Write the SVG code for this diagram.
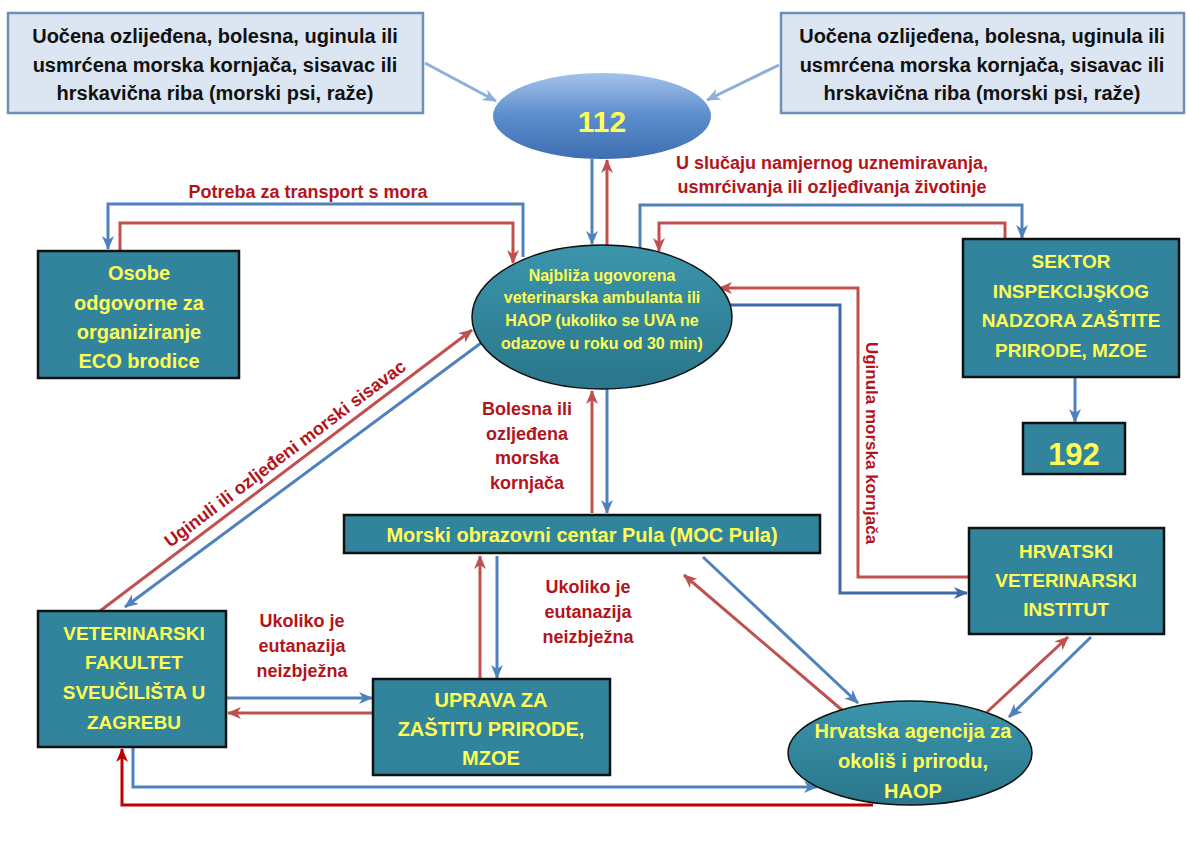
<svg xmlns="http://www.w3.org/2000/svg" width="1189" height="841" viewBox="0 0 1189 841">
<style>
.lb{fill:#dce6f2;stroke:#6f8fb6;stroke-width:2.5}
.tb{fill:#31849b;stroke:#111;stroke-width:2.5}
.te{stroke:#111;stroke-width:1.5}
.bt{font-family:"Liberation Sans",Arial,sans-serif;font-weight:bold;font-size:20px;fill:#111;text-anchor:middle}
.yt{font-family:"Liberation Sans",Arial,sans-serif;font-weight:bold;fill:#ffff55;text-anchor:middle}
.rt{font-family:"Liberation Sans",Arial,sans-serif;font-weight:bold;font-size:18px;fill:#b3141c;text-anchor:middle}
.c{fill:none;stroke-width:3}
.bl{stroke:#4f81bd}
.rd{stroke:#c0504d}
.dr{stroke:#c00000}
.lt{stroke:#8eb0d8}
.db{stroke:#3e68a6}
</style>
<defs>
<linearGradient id="g112" x1="0" y1="0" x2="0" y2="1">
<stop offset="0" stop-color="#a3c2ea"/><stop offset="0.5" stop-color="#5b8dcc"/><stop offset="1" stop-color="#3e6eb1"/>
</linearGradient>
<linearGradient id="gte" x1="0" y1="0" x2="0" y2="1">
<stop offset="0" stop-color="#3b95ab"/><stop offset="1" stop-color="#2a768b"/>
</linearGradient>
<marker id="mb" viewBox="0 0 14 12" markerWidth="14" markerHeight="12" refX="13" refY="6" orient="auto" markerUnits="userSpaceOnUse"><path d="M0,0 L14,6 L0,12 L4,6 z" fill="#4f81bd"/></marker>
<marker id="mr" viewBox="0 0 14 12" markerWidth="14" markerHeight="12" refX="13" refY="6" orient="auto" markerUnits="userSpaceOnUse"><path d="M0,0 L14,6 L0,12 L4,6 z" fill="#c0504d"/></marker>
<marker id="mdr" viewBox="0 0 14 12" markerWidth="14" markerHeight="12" refX="13" refY="6" orient="auto" markerUnits="userSpaceOnUse"><path d="M0,0 L14,6 L0,12 L4,6 z" fill="#c00000"/></marker>
<marker id="ml" viewBox="0 0 14 12" markerWidth="14" markerHeight="12" refX="13" refY="6" orient="auto" markerUnits="userSpaceOnUse"><path d="M0,0 L14,6 L0,12 L4,6 z" fill="#8eb0d8"/></marker>
<marker id="mdb" viewBox="0 0 14 12" markerWidth="14" markerHeight="12" refX="13" refY="6" orient="auto" markerUnits="userSpaceOnUse"><path d="M0,0 L14,6 L0,12 L4,6 z" fill="#3e68a6"/></marker>
</defs>
<rect width="1189" height="841" fill="#fff"/>

<g id="connectors">
<path class="c lt" d="M425,63 L496,101" marker-end="url(#ml)"/>
<path class="c lt" d="M779,65 L707,100" marker-end="url(#ml)"/>
<path class="c bl" d="M592,159 V244" marker-end="url(#mb)"/>
<path class="c rd" d="M607,245 V160" marker-end="url(#mr)"/>
<path class="c bl" d="M523,257 V204 H108 V249" marker-end="url(#mb)"/>
<path class="c rd" d="M120,251 V223 H513 V263" marker-end="url(#mr)"/>
<path class="c bl" d="M640,248 V205 H1022 V238" marker-end="url(#mb)"/>
<path class="c rd" d="M1005,239 V223 H659 V251" marker-end="url(#mr)"/>
<path class="c bl" d="M1075,377 V422" marker-end="url(#mb)"/>
<path class="c bl" d="M607,389 V513" marker-end="url(#mb)"/>
<path class="c rd" d="M592,513 V391" marker-end="url(#mr)"/>
<path class="c rd" d="M100,611 L472,330" marker-end="url(#mr)"/>
<path class="c bl" d="M481,343 L125,607" marker-end="url(#mb)"/>
<path class="c rd" d="M480,679 V556" marker-end="url(#mr)"/>
<path class="c bl" d="M497,556 V678" marker-end="url(#mb)"/>
<path class="c bl" d="M226,698 H372" marker-end="url(#mb)"/>
<path class="c rd" d="M373,713 H228" marker-end="url(#mr)"/>
<path class="c bl" d="M133,748 V787 H817" marker-end="url(#mb)"/>
<path class="c dr" d="M873,805 H122 V749" marker-end="url(#mdr)"/>
<path class="c bl" d="M703,557 L858,703" marker-end="url(#mb)"/>
<path class="c rd" d="M842,710 L684,575" marker-end="url(#mr)"/>
<path class="c rd" d="M987,712 L1068,637" marker-end="url(#mr)"/>
<path class="c bl" d="M1091,637 L1009,717" marker-end="url(#mb)"/>
<path class="c rd" d="M969,577 H858 V288 H719" marker-end="url(#mr)"/>
<path class="c db" d="M730,305 H840 V593 H967" marker-end="url(#mdb)"/>
<text class="rt" x="308" y="198">Potreba za transport s mora</text>
<text class="rt" x="832" y="169">U slučaju namjernog uznemiravanja,</text>
<text class="rt" x="832" y="193">usmrćivanja ili ozljeđivanja životinje</text>
<text class="rt" transform="translate(288.7,458.4) rotate(-37.06)" x="0" y="0">Uginuli ili ozljeđeni morski sisavac</text>
<text class="rt" x="527" y="415">Bolesna ili</text>
<text class="rt" x="527" y="440">ozljeđena</text>
<text class="rt" x="527" y="464">morska</text>
<text class="rt" x="527" y="489">kornjača</text>
<text class="rt" x="302" y="627">Ukoliko je</text>
<text class="rt" x="302" y="652">eutanazija</text>
<text class="rt" x="302" y="677">neizbježna</text>
<text class="rt" x="588" y="593">Ukoliko je</text>
<text class="rt" x="588" y="618">eutanazija</text>
<text class="rt" x="588" y="643">neizbježna</text>
<text class="rt" style="font-size:17px" transform="translate(866,443) rotate(90)" x="0" y="0">Uginula morska kornjača</text>
</g>

<g id="n-obs-left">
<rect class="lb" x="8" y="13" width="415" height="100"/>
<text class="bt" x="215" y="43">Uočena ozlijeđena, bolesna, uginula ili</text>
<text class="bt" x="215" y="72">usmrćena morska kornjača, sisavac ili</text>
<text class="bt" x="215" y="100">hrskavična riba (morski psi, raže)</text>
</g>
<g id="n-obs-right">
<rect class="lb" x="781" y="13" width="403" height="100"/>
<text class="bt" x="982" y="43">Uočena ozlijeđena, bolesna, uginula ili</text>
<text class="bt" x="982" y="72">usmrćena morska kornjača, sisavac ili</text>
<text class="bt" x="982" y="100">hrskavična riba (morski psi, raže)</text>
</g>
<g id="n-112">
<ellipse cx="602" cy="116" rx="109" ry="43" fill="url(#g112)"/>
<text class="yt" x="602" y="132" style="font-size:30px">112</text>
</g>
<g id="n-najbliza">
<ellipse class="te" cx="602" cy="317" rx="130" ry="72" fill="url(#gte)"/>
<text class="yt" x="602" y="281" style="font-size:16px">Najbliža ugovorena</text>
<text class="yt" x="602" y="303" style="font-size:16px">veterinarska ambulanta ili</text>
<text class="yt" x="602" y="326" style="font-size:16px">HAOP (ukoliko se UVA ne</text>
<text class="yt" x="602" y="349" style="font-size:16px">odazove u roku od 30 min)</text>
</g>
<g id="n-osobe">
<rect class="tb" x="38" y="251" width="201" height="127"/>
<text class="yt" x="139" y="280" style="font-size:20px">Osobe</text>
<text class="yt" x="139" y="310" style="font-size:20px">odgovorne za</text>
<text class="yt" x="139" y="339" style="font-size:20px">organiziranje</text>
<text class="yt" x="139" y="368" style="font-size:20px">ECO brodice</text>
</g>
<g id="n-sektor">
<rect class="tb" x="963" y="239" width="216" height="138"/>
<text class="yt" x="1071" y="268" style="font-size:19px">SEKTOR</text>
<text class="yt" x="1071" y="298" style="font-size:19px">INSPEKCIJŞKOG</text>
<text class="yt" x="1071" y="327" style="font-size:19px">NADZORA ZAŠTITE</text>
<text class="yt" x="1071" y="357" style="font-size:19px">PRIRODE, MZOE</text>
</g>
<g id="n-192">
<rect class="tb" x="1023" y="423" width="102" height="51"/>
<text class="yt" x="1074" y="465" style="font-size:31px">192</text>
</g>
<g id="n-moc">
<rect class="tb" x="344" y="515" width="476" height="38"/>
<text class="yt" x="582" y="542" style="font-size:20px">Morski obrazovni centar Pula (MOC Pula)</text>
</g>
<g id="n-hvi">
<rect class="tb" x="969" y="528" width="195" height="106"/>
<text class="yt" x="1066" y="558" style="font-size:19px">HRVATSKI</text>
<text class="yt" x="1066" y="587" style="font-size:19px">VETERINARSKI</text>
<text class="yt" x="1066" y="616" style="font-size:19px">INSTITUT</text>
</g>
<g id="n-vef">
<rect class="tb" x="38" y="611" width="188" height="136"/>
<text class="yt" x="134" y="640" style="font-size:19px">VETERINARSKI</text>
<text class="yt" x="134" y="669" style="font-size:19px">FAKULTET</text>
<text class="yt" x="134" y="699" style="font-size:19px">SVEUČILIŠTA U</text>
<text class="yt" x="134" y="729" style="font-size:19px">ZAGREBU</text>
</g>
<g id="n-uprava">
<rect class="tb" x="373" y="679" width="237" height="96"/>
<text class="yt" x="491" y="707" style="font-size:20px">UPRAVA ZA</text>
<text class="yt" x="491" y="736" style="font-size:20px">ZAŠTITU PRIRODE,</text>
<text class="yt" x="491" y="765" style="font-size:20px">MZOE</text>
</g>
<g id="n-haop">
<ellipse class="te" cx="910" cy="753" rx="122" ry="52" fill="url(#gte)"/>
<text class="yt" x="913" y="738" style="font-size:20px">Hrvatska agencija za</text>
<text class="yt" x="913" y="768" style="font-size:20px">okoliš i prirodu,</text>
<text class="yt" x="913" y="798" style="font-size:20px">HAOP</text>
</g>
</svg>
